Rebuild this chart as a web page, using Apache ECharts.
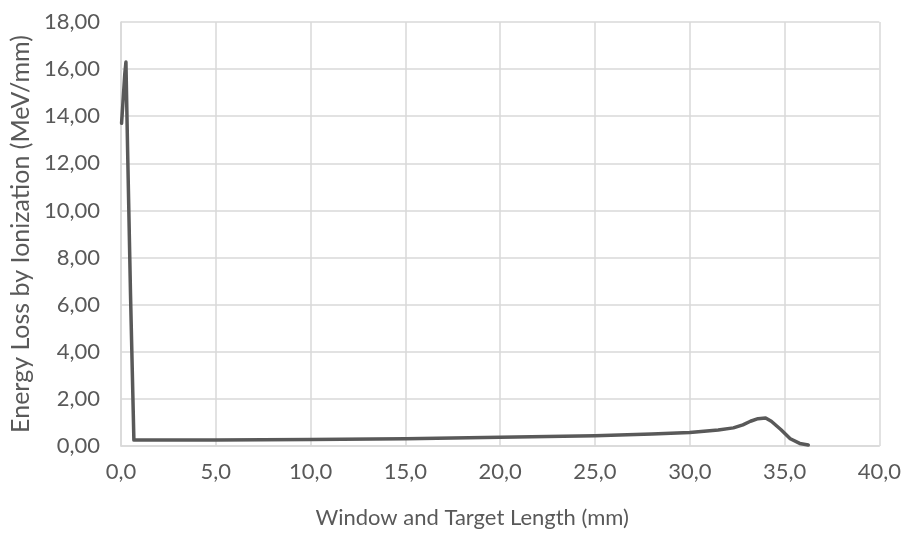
<!DOCTYPE html>
<html>
<head>
<meta charset="utf-8">
<script src="https://cdn.jsdelivr.net/npm/echarts@6/dist/echarts.min.js"></script>
<style>
html,body{margin:0;padding:0;background:#fff;}
#chart{width:904px;height:534px;}
</style>
</head>
<body>
<div id="chart"></div>
<script>
// Data
const lengthMm = [0.03, 0.12, 0.2, 0.26, 0.35, 0.5, 0.68, 2.0, 5.0, 10.0, 15.0, 20.0, 25.0, 28.0, 30.0, 30.6, 31.5, 32.3, 32.8, 33.2, 33.6, 34.0, 34.3, 34.8, 35.3, 35.8, 36.25];
const energyLoss = [13.7, 14.8, 15.8, 16.3, 12.5, 6.5, 0.25, 0.25, 0.26, 0.28, 0.31, 0.37, 0.44, 0.51, 0.57, 0.62, 0.68, 0.77, 0.9, 1.05, 1.16, 1.19, 1.05, 0.7, 0.31, 0.11, 0.04];
const xTicks = {min: 0, max: 40, step: 5};
const yTicks = {min: 0, max: 18, step: 2};
const xTitle = 'Window and Target Length (mm)';
const yTitle = 'Energy Loss by Ionization (MeV/mm)';

const FONT = 'Lato';
const TXT = '#595959';
const GRID = '#d9d9d9';

const chart = echarts.init(document.getElementById('chart'), null, {renderer: 'canvas'});
chart.setOption({
  animation: false,
  backgroundColor: '#fff',
  textStyle: {fontFamily: FONT},
  grid: {left: 121, right: 24, top: 22, bottom: 84, containLabel: false},
  xAxis: {
    type: 'value',
    min: xTicks.min, max: xTicks.max, interval: xTicks.step,
    name: xTitle,
    nameLocation: 'middle',
    nameGap: 61,
    nameTextStyle: {color: TXT, fontSize: 22, fontFamily: FONT, padding: [0, 56, 0, 0]},
    axisLine: {show: true, lineStyle: {color: GRID, width: 1.5}},
    axisTick: {show: false},
    axisLabel: {color: TXT, fontSize: 22, fontFamily: FONT, margin: 15,
      formatter: v => v.toFixed(1).replace('.', ',')},
    splitLine: {show: true, lineStyle: {color: GRID, width: 1.5}}
  },
  yAxis: {
    type: 'value',
    min: yTicks.min, max: yTicks.max, interval: yTicks.step,
    name: yTitle,
    nameLocation: 'middle',
    nameGap: 88,
    nameTextStyle: {color: TXT, fontSize: 25, fontFamily: FONT},
    axisLine: {show: true, lineStyle: {color: GRID, width: 1.5}},
    axisTick: {show: false},
    axisLabel: {color: TXT, fontSize: 22, fontFamily: FONT, margin: 21,
      formatter: v => v.toFixed(2).replace('.', ',')},
    splitLine: {show: true, lineStyle: {color: GRID, width: 1.5}}
  },
  series: [{
    type: 'line',
    data: lengthMm.map((x, i) => [x, energyLoss[i]]),
    showSymbol: false,
    smooth: false,
    lineStyle: {color: '#595959', width: 3.5, cap: 'round', join: 'round'},
    z: 3
  }]
});
</script>
</body>
</html>
